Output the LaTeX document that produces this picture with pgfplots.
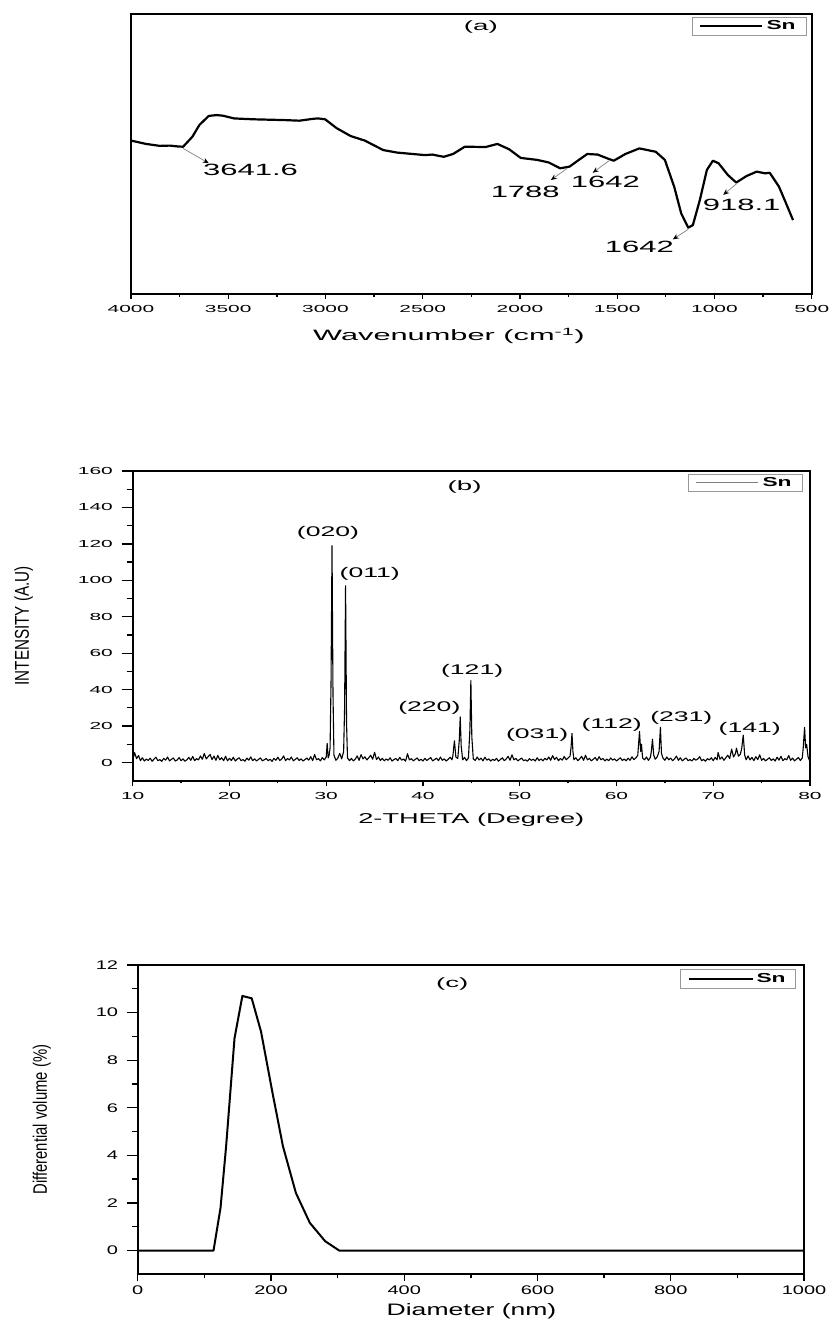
\documentclass[border=0pt]{standalone}
\usepackage{fontspec}
\setmainfont{Liberation Sans}
\newfontfamily\fA[FakeStretch=2.05]{Liberation Sans}
\newfontfamily\fB[FakeStretch=1.9]{Liberation Sans}
\newfontfamily\fC[FakeStretch=1.6]{Liberation Sans}
\newfontfamily\fN[FakeStretch=0.76]{Liberation Sans}
\newfontfamily\fL[FakeStretch=1.75]{Liberation Sans}
\usepackage{pgfplots}
\pgfplotsset{compat=1.18}
\usetikzlibrary{arrows.meta}
\pgfplotsset{
  common/.style={
    scale only axis, tick align=outside,
    xtick pos=left, ytick pos=left,
    every tick/.style={black, line width=1.3pt},
    axis line style={line width=1.7pt},
    /pgf/number format/assume math mode=true,
    /pgf/number format/1000 sep={},
    clip=false,
  },
}
\begin{document}
\begin{tikzpicture}
\path[use as bounding box] (0pt,0pt) rectangle (830pt,-1325pt);

% ---------------- (a) FTIR ----------------
\begin{axis}[common,
  at={(131pt,-294pt)}, anchor=south west,
  width=680.7pt, height=280pt,
  x dir=reverse, xmin=500, xmax=4000, ymin=0, ymax=100,
  xtick={500,1000,...,4000}, minor x tick num=1,
  ytick=\empty,
  major tick length=5pt, minor tick length=3pt,
  xticklabel style={font=\fontsize{10.2}{12}\fA, inner sep=0pt, yshift=-6pt},
  xlabel={Wavenumber (cm\textsuperscript{-1})},
  xlabel style={font=\fontsize{15}{18}\fA, at={(axis description cs:0.467,-0.15)}, anchor=center},
  legend style={at={(1,1)}, anchor=north east, xshift=-4.7pt, yshift=-3pt,
    draw=gray!80, line width=0.8pt, inner xsep=7pt, inner ysep=1.5pt,
    font=\fontsize{13}{15}\fL\bfseries, nodes={inner xsep=4pt, inner ysep=2pt}},
  legend image code/.code={\draw[#1, line width=1.5pt] (0pt,0pt) -- (62pt,0pt);},
]
\addplot[black, line width=2.2pt, line join=round] coordinates {
(4000,54.8) (3923,53.6) (3852,52.9) (3800,53.0) (3760,52.7) (3732,52.6)
(3684,56.2) (3648,60.4) (3600,63.6) (3560,63.9) (3529,63.7) (3469,62.7)
(3373,62.4) (3205,62.1) (3134,61.9) (3060,62.6) (3038,62.7) (3002,62.4)
(2942,59.2) (2870,56.4) (2798,54.8) (2703,51.4) (2631,50.5) (2487,49.6)
(2451,49.8) (2392,49.0) (2344,50.0) (2284,52.6) (2176,52.5) (2116,53.6)
(2056,51.7) (1996,48.6) (1912,47.9) (1853,47.0) (1793,44.9) (1745,45.5)
(1697,47.9) (1654,50.0) (1601,49.8) (1553,48.5) (1518,47.6) (1458,50.0)
(1386,52.0) (1302,50.8) (1255,47.9) (1207,38.3) (1171,28.8) (1135,23.7)
(1111,24.6) (1075,33.6) (1039,44.3) (1008,47.6) (979,46.7) (931,42.5)
(888,39.8) (836,42.1) (783,43.7) (740,43.1) (716,43.3) (668,38.3)
(632,32.4) (596,26.4)
};
\addlegendentry{Sn}
\node[font=\fontsize{13.5}{15}\fA] at (rel axis cs:0.514,0.955) {(a)};
\begin{scope}[every node/.style={font=\fontsize{16.3}{18}\fB}]
\node at (axis cs:3385,44.5) {3641.6};
\node at (axis cs:1973,36.5) {1788};
\node at (axis cs:1561,40.1) {1642};
\node at (axis cs:860,32.0) {918.1};
\node at (axis cs:1386,16.7) {1642};
\end{scope}
\begin{scope}[gray, line width=0.7pt, -{Stealth[length=6pt,width=5pt,color=black]}]
\draw (axis cs:3732,52.0) -- (axis cs:3600,46.7);
\draw (axis cs:1757,44.9) -- (axis cs:1841,40.7);
\draw (axis cs:1542,47.6) -- (axis cs:1626,43.3);
\draw (axis cs:884,39.5) -- (axis cs:955,35.4);
\draw (axis cs:1135,23.1) -- (axis cs:1214,19.5);
\end{scope}
\end{axis}

% ---------------- (b) XRD ----------------
\begin{axis}[common,
  at={(132.7pt,-780.7pt)}, anchor=south west,
  width=677.3pt, height=309.7pt,
  xmin=10, xmax=80, ymin=-10, ymax=160,
  xtick={10,20,...,80}, minor x tick num=1,
  ytick=\empty,
  major tick length=5pt, minor tick length=2.7pt,
  xticklabel style={font=\fontsize{10.2}{12}\fA, inner sep=0pt, yshift=-6pt},
  xlabel={2-THETA (Degree)},
  xlabel style={font=\fontsize{14.3}{17}\fB, at={(axis description cs:0.5,-0.127)}, anchor=center},
  legend style={at={(1,1)}, anchor=north east, xshift=-7pt, yshift=-3pt,
    draw=gray!80, line width=0.8pt, inner xsep=7pt, inner ysep=1pt,
    font=\fontsize{13}{15}\fL\bfseries, nodes={inner xsep=4pt, inner ysep=2pt}},
  legend image code/.code={\draw[gray, line width=1pt] (0pt,0pt) -- (62pt,0pt);},
]
\addplot[black, line width=1.1pt, line join=round] coordinates {
(10.0,1.2) (10.2,5.4) (10.4,2.1) (10.6,3.8) (10.8,1.0) (11.0,2.6) (11.2,0.8) (11.4,1.9) (11.6,1.1) (11.8,2.4)
(12.0,0.7) (12.2,1.8) (12.4,2.9) (12.6,1.0) (12.8,1.6) (13.0,0.6) (13.2,2.2) (13.4,1.3) (13.6,3.0) (13.8,0.9)
(14.0,1.7) (14.2,2.5) (14.4,0.8) (14.6,1.4) (14.8,2.7) (15.0,1.0) (15.2,2.0) (15.4,0.7) (15.6,1.5) (15.8,2.8)
(16.0,1.2) (16.2,3.3) (16.4,1.0) (16.6,2.1) (16.8,1.4) (17.0,3.6) (17.2,1.8) (17.4,4.9) (17.6,2.0) (17.8,3.2)
(18.0,4.4) (18.2,1.6) (18.4,3.5) (18.6,1.2) (18.8,3.9) (19.0,1.5) (19.2,2.6) (19.4,1.0) (19.6,3.4) (19.8,0.9)
(20.0,2.3) (20.2,1.1) (20.4,2.9) (20.6,0.8) (20.8,1.9) (21.0,2.6) (21.2,1.0) (21.4,1.6) (21.6,0.7) (21.8,2.4)
(22.0,1.3) (22.2,3.1) (22.4,1.0) (22.6,2.0) (22.8,0.8) (23.0,1.7) (23.2,2.5) (23.4,0.9) (23.6,1.5) (23.8,2.2)
(24.0,1.0) (24.2,1.8) (24.4,0.6) (24.6,2.3) (24.8,1.2) (25.0,2.9) (25.2,1.1) (25.4,1.9) (25.6,3.6) (25.8,1.0)
(26.0,2.2) (26.2,1.4) (26.4,3.0) (26.6,0.9) (26.8,1.7) (27.0,2.6) (27.2,1.1) (27.4,2.0) (27.6,0.8) (27.8,1.6)
(28.0,2.4) (28.2,1.3) (28.4,3.2) (28.6,1.0) (28.8,4.4) (29.0,1.5) (29.2,2.1) (29.4,0.9) (29.6,2.7) (29.8,1.4)
(30.0,3.0) (30.1,10.5) (30.2,2.5) (30.3,4.0) (30.4,8.0) (30.5,45) (30.6,119) (30.7,38) (30.8,4.0) (31.0,1.2)
(31.2,2.4) (31.4,5.0) (31.6,2.0) (31.8,6.0) (31.9,30) (32.0,97) (32.1,22) (32.2,2.5) (32.4,1.0) (32.6,2.2)
(32.8,0.9) (33.0,1.8) (33.2,3.6) (33.4,1.2) (33.6,4.3) (33.8,2.0) (34.0,3.1) (34.2,1.4) (34.4,2.6) (34.6,4.0)
(34.8,1.8) (35.0,5.6) (35.2,1.6) (35.4,3.0) (35.6,1.1) (35.8,2.3) (36.0,0.9) (36.2,1.9) (36.4,1.2) (36.6,2.6)
(36.8,0.8) (37.0,1.6) (37.2,2.2) (37.4,1.0) (37.6,2.8) (37.8,1.3) (38.0,1.9) (38.2,0.7) (38.4,4.8) (38.6,1.4)
(38.8,2.1) (39.0,0.9) (39.2,1.7) (39.4,2.5) (39.6,1.0) (39.8,1.8) (40.0,0.8) (40.2,2.3) (40.4,1.1) (40.6,1.9)
(40.8,2.7) (41.0,0.9) (41.2,1.6) (41.4,2.4) (41.6,1.0) (41.8,3.0) (42.0,1.2) (42.2,2.0) (42.4,0.8) (42.6,1.7)
(42.8,2.9) (43.0,1.5) (43.1,4.0) (43.25,11.9) (43.4,3.0) (43.6,2.2) (43.75,12) (43.85,25) (43.95,9) (44.1,1.5)
(44.3,2.8) (44.5,1.0) (44.7,2.5) (44.85,18) (44.95,45) (45.05,14) (45.2,2.0) (45.4,1.1) (45.6,3.0) (45.8,1.4)
(46.0,2.4) (46.2,0.9) (46.4,2.9) (46.6,1.3) (46.8,2.0) (47.0,0.8) (47.2,1.8) (47.4,1.1) (47.6,2.3) (47.8,0.7)
(48.0,1.6) (48.2,2.6) (48.4,1.0) (48.6,1.9) (48.8,3.4) (49.0,1.2) (49.2,4.2) (49.4,1.5) (49.6,2.2) (49.8,0.9)
(50.0,1.7) (50.2,2.4) (50.4,1.0) (50.6,1.5) (50.8,0.7) (51.0,2.1) (51.2,1.2) (51.4,1.8) (51.6,0.8) (51.8,2.6)
(52.0,1.1) (52.2,1.9) (52.4,0.9) (52.6,2.3) (52.8,1.4) (53.0,3.0) (53.2,1.2) (53.4,3.8) (53.6,1.6) (53.8,2.9)
(54.0,1.0) (54.2,2.2) (54.4,1.3) (54.6,3.3) (54.8,1.5) (55.0,2.5) (55.2,3.5) (55.3,8) (55.4,16) (55.5,6)
(55.6,1.5) (55.8,2.6) (56.0,1.0) (56.2,2.0) (56.4,3.4) (56.6,1.2) (56.8,4.0) (57.0,1.4) (57.2,2.3) (57.4,0.9)
(57.6,1.8) (57.8,2.7) (58.0,1.1) (58.2,3.2) (58.4,1.5) (58.6,2.2) (58.8,0.9) (59.0,1.9) (59.2,1.0) (59.4,2.5)
(59.6,1.3) (59.8,2.0) (60.0,0.8) (60.2,1.7) (60.4,2.6) (60.6,1.1) (60.8,1.9) (61.0,0.9) (61.2,2.4) (61.4,1.2)
(61.6,3.1) (61.8,1.6) (62.0,2.5) (62.2,4.0) (62.38,17) (62.5,6) (62.58,10) (62.7,2.5) (62.9,1.5) (63.1,3.0)
(63.3,1.2) (63.5,2.8) (63.6,6) (63.72,12.8) (63.85,4) (64.0,1.8) (64.2,3.0) (64.4,6) (64.54,19.3) (64.65,5)
(64.8,2.5) (65.0,1.2) (65.2,3.0) (65.4,1.5) (65.6,2.4) (65.8,1.0) (66.0,2.0) (66.2,3.5) (66.4,1.2) (66.6,2.6)
(66.8,0.9) (67.0,1.8) (67.2,2.5) (67.4,1.0) (67.6,1.6) (67.8,0.8) (68.0,2.2) (68.2,1.3) (68.4,1.9) (68.6,3.2)
(68.8,1.0) (69.0,1.7) (69.2,0.7) (69.4,2.1) (69.6,1.4) (69.8,2.6) (70.0,1.0) (70.2,2.8) (70.4,1.5) (70.5,5.5)
(70.7,1.8) (70.9,3.0) (71.1,1.2) (71.3,2.6) (71.5,4.0) (71.7,2.2) (71.9,7.3) (72.1,3.0) (72.3,5.0) (72.4,7.9)
(72.6,3.5) (72.8,4.5) (72.95,8) (73.1,15) (73.25,4) (73.4,1.5) (73.6,3.6) (73.8,1.4) (74.0,2.8) (74.2,1.0)
(74.4,3.2) (74.6,1.6) (74.8,4.2) (75.0,1.2) (75.2,2.2) (75.4,0.9) (75.6,1.7) (75.8,2.6) (76.0,1.1) (76.2,2.0)
(76.4,0.8) (76.6,2.9) (76.8,1.3) (77.0,3.4) (77.2,1.0) (77.4,2.1) (77.6,1.5) (77.8,3.8) (78.0,1.2) (78.2,2.4)
(78.4,0.9) (78.6,1.8) (78.8,2.7) (79.0,1.1) (79.2,2.5) (79.3,8) (79.44,19.3) (79.55,8) (79.65,10) (79.8,3)
(80.0,0.5)
};
\addlegendentry{Sn}
\node[font=\fontsize{13.5}{15}\fA] at (rel axis cs:0.49,0.949) {(b)};
\begin{scope}[every node/.style={font=\fontsize{14}{16}\fB}]
\node at (axis cs:30.18,126.1) {(020)};
\node at (axis cs:34.5,103.3) {(011)};
\node at (axis cs:40.66,29.9) {(220)};
\node at (axis cs:45.08,50.5) {(121)};
\node at (axis cs:51.8,15.2) {(031)};
\node at (axis cs:59.5,20.7) {(112)};
\node at (axis cs:66.7,24.4) {(231)};
\node at (axis cs:73.77,18.3) {(141)};
\end{scope}
\end{axis}
\begin{axis}[common,
  at={(132.7pt,-780.7pt)}, anchor=south west,
  width=677.3pt, height=309.7pt,
  xmin=10, xmax=80, ymin=-10, ymax=160,
  xtick=\empty, ytick={0,20,...,160}, minor y tick num=1,
  major tick length=11pt, minor tick length=6pt,
  yticklabel style={font=\fontsize{10.2}{12}\fA, inner sep=0pt, xshift=-8.7pt},
  ylabel={INTENSITY (A.U)},
  ylabel style={font=\fontsize{20}{22}\fN, at={(axis description cs:-0.161,0.5)}, anchor=center, rotate=0},
]
\end{axis}

% ---------------- (c) size distribution ----------------
\begin{axis}[common,
  at={(137.7pt,-1274.3pt)}, anchor=south west,
  width=666.3pt, height=309.3pt,
  xmin=0, xmax=1000, ymin=-1, ymax=12,
  xtick={0,200,...,1000}, minor x tick num=1,
  ytick=\empty,
  major tick length=6.7pt, minor tick length=4pt,
  xticklabel style={font=\fontsize{12.5}{14}\fC, inner sep=0pt, yshift=-5pt},
  xlabel={Diameter (nm)},
  xlabel style={font=\fontsize{16.6}{19}\fC, at={(axis description cs:0.501,-0.119)}, anchor=center},
  legend style={at={(1,1)}, anchor=north east, xshift=-8pt, yshift=-4pt,
    draw=gray!80, line width=0.8pt, inner xsep=7pt, inner ysep=2pt,
    font=\fontsize{13}{15}\fL\bfseries, nodes={inner xsep=3pt, inner ysep=2pt}},
  legend image code/.code={\draw[black, line width=1.7pt] (0pt,0pt) -- (64pt,0pt);},
]
\addplot[black, line width=2pt, line join=round] coordinates {
(0,0) (113.8,0) (124.3,1.79) (132.7,4.38) (145.3,8.92) (157.1,10.70) (171.1,10.60)
(185.1,9.2) (202.5,6.6) (218,4.38) (237.4,2.42) (258.4,1.16) (281.4,0.39) (302.4,0) (1000,0)
};
\addlegendentry{Sn}
\node[font=\fontsize{13.5}{15}\fA] at (rel axis cs:0.472,0.939) {(c)};
\end{axis}
\begin{axis}[common,
  at={(137.7pt,-1274.3pt)}, anchor=south west,
  width=666.3pt, height=309.3pt,
  xmin=0, xmax=1000, ymin=-1, ymax=12,
  xtick=\empty, ytick={0,2,...,12}, minor y tick num=1,
  major tick length=11pt, minor tick length=6pt,
  yticklabel style={font=\fontsize{12.5}{14}\fC, inner sep=0pt, xshift=-8.4pt},
  ylabel={Differential volume (\%)},
  ylabel style={font=\fontsize{19.5}{22}\fN, at={(axis description cs:-0.144,0.5)}, anchor=center, rotate=0},
]
\end{axis}
\end{tikzpicture}
\end{document}
